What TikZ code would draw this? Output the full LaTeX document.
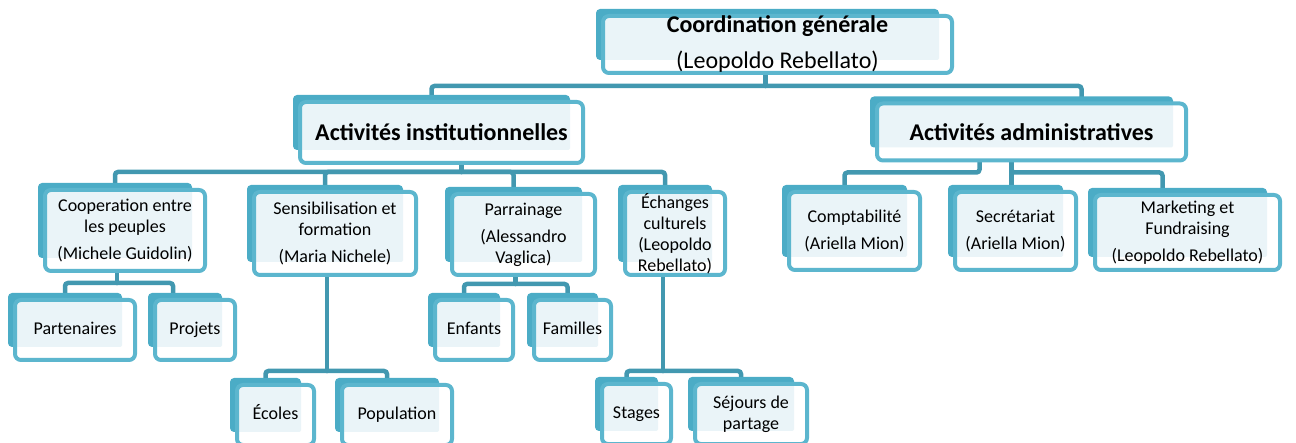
\documentclass[tikz,border=0pt]{standalone}
\usepackage{fontspec}
\setmainfont{Carlito}
\usetikzlibrary{calc, backgrounds}
\definecolor{boxteal}{RGB}{75,172,198}
\definecolor{boxedge}{RGB}{92,182,206}
\definecolor{boxfill}{RGB}{234,244,248}
\definecolor{linkteal}{RGB}{66,152,176}

\begin{document}
\begin{tikzpicture}[
    x=1pt, y=-1pt,
    box/.style={draw=boxedge, line width=4pt, rounded corners=6pt,
                inner sep=0pt, outer sep=0pt, align=center,
                font=\fontsize{18}{21}\selectfont},
    headbox/.style={box, font=\fontsize{24}{29}\selectfont},
    link/.style={draw=linkteal, line width=4.5pt, line cap=round,
                 rounded corners=3pt},
  ]
    \useasboundingbox (0,0) rectangle (1296,443);
    \clip (0,0) rectangle (1296,443);

    % Top level
    \node[headbox, minimum width=349, minimum height=57] (coord) at (777.5,44.5)
      {\textbf{Coordination générale}\\[7pt](Leopoldo Rebellato)};

    % Second level
    \node[headbox, minimum width=283, minimum height=61] (inst) at (441.5,132.5)
      {\textbf{Activités institutionnelles}};
    \node[headbox, minimum width=309, minimum height=57] (admin) at (1031.5,132)
      {\textbf{Activités administratives}};

    % Third level
    \node[box, minimum width=160, minimum height=81] (coop) at (125,230.5)
      {Cooperation entre\\les peuples\\[6pt](Michele Guidolin)};
    \node[box, minimum width=162, minimum height=83] (sens) at (335,233.5)
      {Sensibilisation et\\formation\\[6pt](Maria Nichele)};
    \node[box, minimum width=143, minimum height=81] (parr) at (523.5,234.5)
      {Parrainage\\[6pt](Alessandro\\Vaglica)};
    \node[box, minimum width=100, minimum height=83] (ech) at (675,233.5)
      {Échanges\\culturels\\(Leopoldo\\Rebellato)};
    \node[box, minimum width=131, minimum height=78] (compta) at (854.5,231)
      {Comptabilité\\[6pt](Ariella Mion)};
    \node[box, minimum width=121, minimum height=78] (secr) at (1015.5,231)
      {Secrétariat\\[6pt](Ariella Mion)};
    \node[box, minimum width=185, minimum height=75] (mark) at (1187.5,232.5)
      {Marketing et\\Fundraising\\[6pt](Leopoldo Rebellato)};

    % Fourth level
    \node[box, minimum width=120, minimum height=60] (part) at (75,330) {\strut Partenaires};
    \node[box, minimum width=80, minimum height=60] (proj) at (195,330) {\strut Projets};
    \node[box, minimum width=77, minimum height=60] (ecol) at (275.5,415) {\strut Écoles};
    \node[box, minimum width=110, minimum height=60] (pop) at (397,415) {\strut Population};
    \node[box, minimum width=78, minimum height=60] (enf) at (474,330) {\strut Enfants};
    \node[box, minimum width=77, minimum height=60] (fam) at (572.5,330) {\strut Familles};
    \node[box, minimum width=69, minimum height=60] (stag) at (636.5,414) {\strut Stages};
    \node[box, minimum width=112, minimum height=60] (sej) at (751,414)
      {Séjours de\\partage};

    \begin{pgfonlayer}{background}
      % connectors
      \draw[link] ([xshift=-12]coord.south) -- ++(0,13) coordinate (topj);
      \draw[link] (topj) -| ([xshift=-10]inst.north);
      \draw[link] (topj) -| ([xshift=50]admin.north);

      \draw[link] ([xshift=20]inst.south) -- ++(0,9) coordinate (instj);
      \foreach \c in {coop, sens, parr, ech}
        \draw[link] (instj) -| ([xshift=-10]\c.north);

      \draw[link] ([xshift=-52]admin.south) -- ++(0,12) -| ([xshift=-10]compta.north);
      \draw[link] ([xshift=-20]admin.south) -- ++(0,30);
      \draw[link] ([xshift=-20]admin.south) -- ++(0,12) -| ([xshift=-25]mark.north);

      \draw[link] ([xshift=-8]coop.south) -- ++(0,12) coordinate (coopj);
      \draw[link] (coopj) -| ([xshift=-10]part.north);
      \draw[link] (coopj) -| ([xshift=-22]proj.north);

      \draw[link] ([xshift=-8]sens.south) -- ++(0,96) coordinate (sensj);
      \draw[link] (sensj) -| ([xshift=-10]ecol.north);
      \draw[link] (sensj) -| ([xshift=-10]pop.north);

      \draw[link] ([xshift=-8]parr.south) -- ++(0,9) coordinate (parrj);
      \draw[link] (parrj) -| ([xshift=-10]enf.north);
      \draw[link] (parrj) -| ([xshift=-5]fam.north);

      \draw[link] ([xshift=-12]ech.south) -- ++(0,96) coordinate (echj);
      \draw[link] (echj) -| ([xshift=-10]stag.north);
      \draw[link] (echj) -| ([xshift=-10]sej.north);

      % box shadows and fills
      \foreach \n in {coord, inst, admin, coop, sens, parr, ech, compta, secr,
                      mark, part, proj, ecol, pop, enf, fam, stag, sej} {
        \fill[boxteal, rounded corners=4pt] ($(\n.north west)+(-7,-7)$)
          rectangle ($(\n.south east)+(-13,-13)$);
        \fill[white, rounded corners=6pt] (\n.north west) rectangle (\n.south east);
        \fill[boxfill, rounded corners=2pt] (\n.north west)
          rectangle ($(\n.south east)+(-13,-13)$);
      }
    \end{pgfonlayer}
\end{tikzpicture}
\end{document}
